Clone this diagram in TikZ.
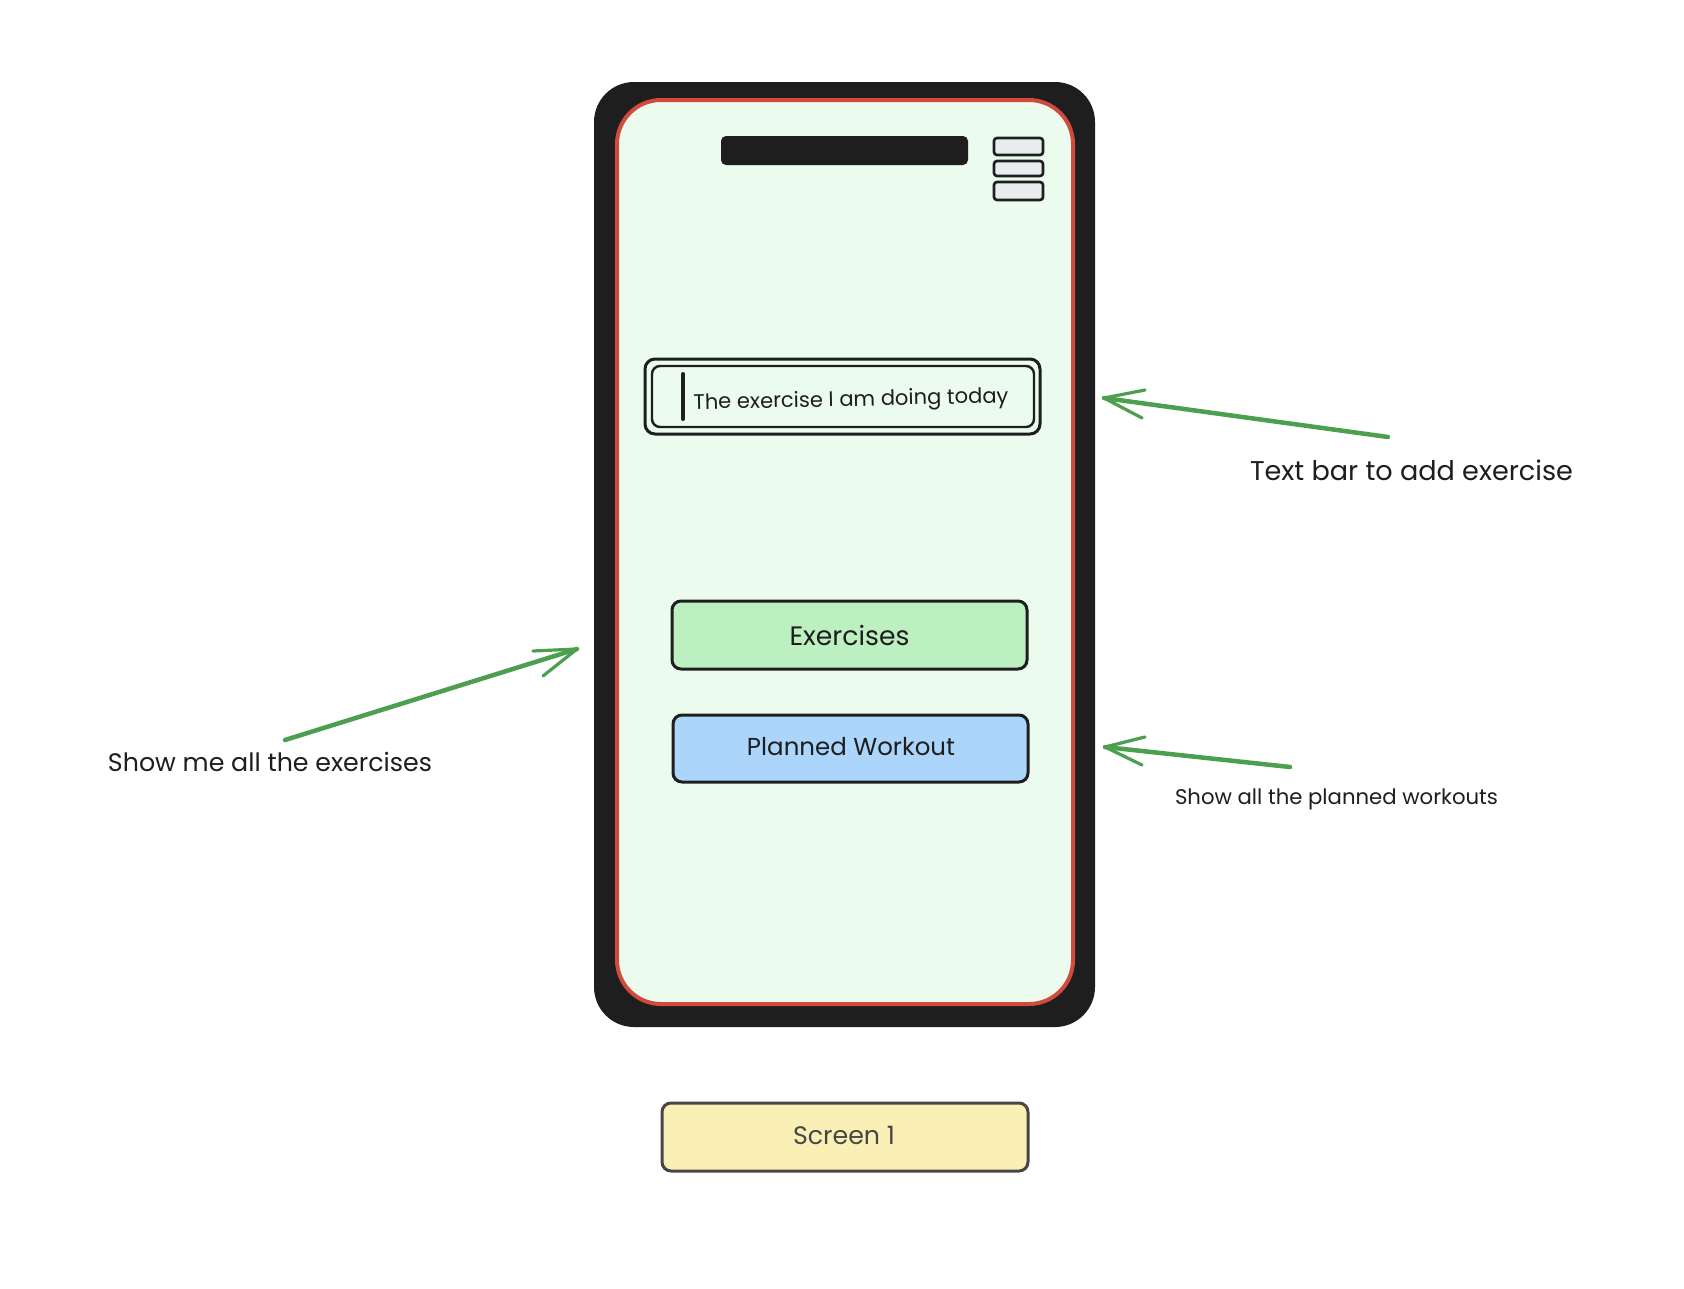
\documentclass[tikz,border=0pt]{standalone}
\usepackage{fontspec}
\usepackage{graphicx}
\setmainfont{Poppins}
\definecolor{ink}{HTML}{1E1E1E}
\definecolor{screenbg}{HTML}{EBFBEE}
\definecolor{screenedge}{HTML}{D04A3E}
\definecolor{menubg}{HTML}{E9ECEF}
\definecolor{exbg}{HTML}{BCF0C1}
\definecolor{planbg}{HTML}{ABD5FA}
\definecolor{tagbg}{HTML}{FAF0B5}
\definecolor{tagedge}{HTML}{464646}
\definecolor{note}{HTML}{4C9F4F}
\tikzset{
  btnbox/.style={draw=ink, line width=3pt, rounded corners=9pt},
  menubox/.style={draw=ink, fill=menubg, line width=2.6pt, rounded corners=3pt},
  txt/.style={text=ink, inner sep=0pt, anchor=center},
  shaft/.style={draw=note, line width=4.5pt, line cap=round},
  head/.style={draw=note, line width=3.2pt, line cap=round, line join=round},
}
% fixed-width text helper
\newcommand{\wtext}[2]{\resizebox{#1pt}{!}{#2}}
\begin{document}
\begin{tikzpicture}[x=1pt,y=-1pt]
  \useasboundingbox[fill=white] (0,0) rectangle (1684,1288);

  % phone body and screen
  \fill[ink, rounded corners=40pt] (594,82) rectangle (1095,1027);
  \draw[fill=screenbg, draw=screenedge, line width=4pt, rounded corners=44pt]
    (617,100) rectangle (1073,1004);

  % speaker bar
  \fill[ink, rounded corners=5pt] (721,136) rectangle (968,165);

  % menu icon
  \draw[menubox] (994,138) rectangle (1043,155);
  \draw[menubox] (994,161) rectangle (1043,176);
  \draw[menubox] (994,182) rectangle (1043,200);

  % text entry bar
  \draw[draw=ink, line width=3pt, rounded corners=10pt] (645,359) rectangle (1040,434);
  \draw[draw=ink, line width=2.4pt, rounded corners=8pt] (652,366) rectangle (1034,427);
  \draw[ink, line width=4pt, line cap=round] (683,374) -- (683,419);
  \node[txt, rotate=1.2] (bartext) at (851,401)
    {\wtext{315}{The exercise I am doing today}};

  % buttons
  \node[btnbox, fill=exbg, minimum width=355pt, minimum height=68pt, inner sep=0pt]
    (exbtn) at (849.5,635) {};
  \node[txt] at (exbtn.center) {\wtext{120}{Exercises}};
  \node[btnbox, fill=planbg, minimum width=355pt, minimum height=67pt, inner sep=0pt]
    (planbtn) at (850.5,748.5) {};
  \node[txt] at (851,747) {\wtext{208}{Planned Workout}};

  % screen caption
  \node[draw=tagedge, fill=tagbg, line width=3pt, rounded corners=9pt,
        minimum width=366pt, minimum height=68pt, inner sep=0pt]
    (tag) at (845,1137) {};
  \node[txt, text=tagedge] at (844,1135) {\wtext{102}{Screen 1}};

  % annotations
  \node[txt] (lblEx) at (270,762) {\wtext{324}{Show me all the exercises}};
  \node[txt] (lblBar) at (1411.5,470) {\wtext{323}{Text bar to add exercise}};
  \node[txt] (lblPlan) at (1336.5,799) {\wtext{323}{Show all the planned workouts}};

  \coordinate (aS1) at (285,740);
  \coordinate (aT1) at (577,649);
  \draw[shaft] (aS1) -- (aT1);
  \draw[head] (533,651) -- (aT1) -- (543,676);

  \coordinate (aS2) at (1388,437);
  \coordinate (aT2) at (1104,398);
  \draw[shaft] (aS2) -- (aT2);
  \draw[head] (1145,390) -- (aT2) -- (1142,418);

  \coordinate (aS3) at (1290,767);
  \coordinate (aT3) at (1105,747);
  \draw[shaft] (aS3) -- (aT3);
  \draw[head] (1145,737) -- (aT3) -- (1142,765);
\end{tikzpicture}
\end{document}
